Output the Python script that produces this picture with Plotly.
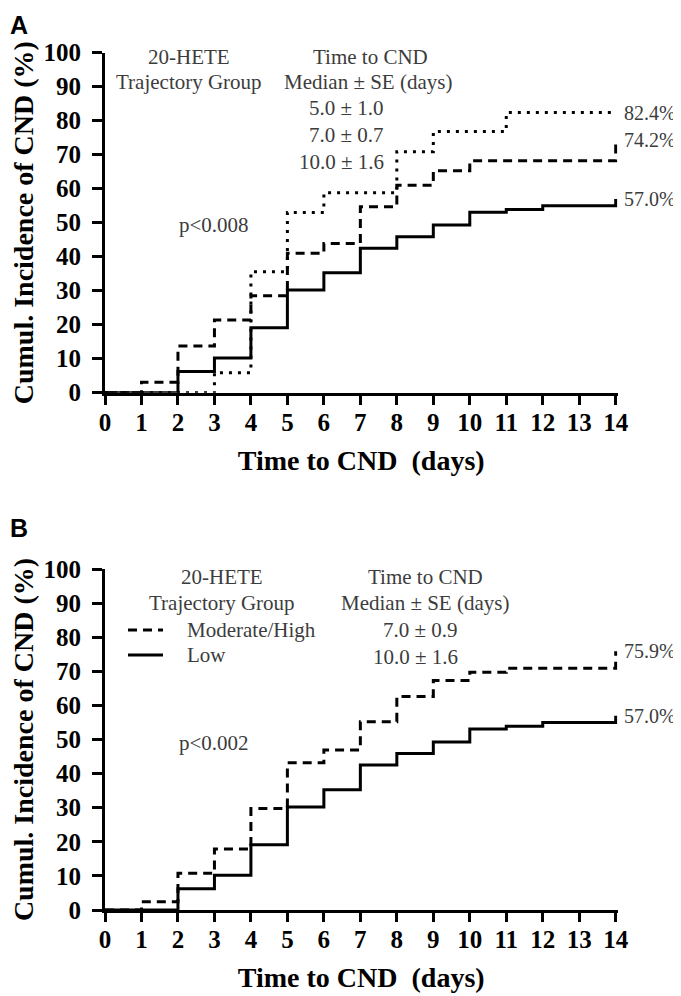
import plotly.graph_objects as go

# ---------------- data ----------------
days_low = [0, 2, 3, 4, 5, 6, 7, 8, 9, 10, 11, 12, 14]
cum_low = [0, 6.2, 10.2, 19.1, 30.2, 35.3, 42.5, 45.9, 49.3, 53.1, 53.9, 55.0, 57.0]

days_mod_a = [0, 1, 2, 3, 4, 5, 6, 7, 8, 9, 10, 14]
cum_mod_a = [0, 3.1, 13.7, 21.4, 28.5, 41.0, 43.9, 54.7, 61.0, 65.3, 68.2, 74.2]

days_high_a = [0, 3, 4, 5, 6, 8, 9, 11, 14]
cum_high_a = [0, 5.9, 35.6, 53.0, 58.8, 70.9, 76.8, 82.4, 82.4]

days_modhigh_b = [0, 1, 2, 3, 4, 5, 6, 7, 8, 9, 10, 11, 14]
cum_modhigh_b = [0, 2.4, 10.8, 17.9, 29.8, 43.2, 46.9, 55.2, 62.6, 67.3, 69.7, 70.9, 75.9]

x_ticks = list(range(0, 15))
y_ticks = list(range(0, 101, 10))

medians_a = ["5.0 ± 1.0", "7.0 ± 0.7", "10.0 ± 1.6"]
medians_b = ["7.0 ± 0.9", "10.0 ± 1.6"]
end_labels_a = ["82.4%", "74.2%", "57.0%"]
end_values_a = [82.4, 74.2, 57.0]
end_labels_b = ["75.9%", "57.0%"]
end_values_b = [75.9, 57.0]
p_a = "p<0.008"
p_b = "p<0.002"
legend_names_b = ["Moderate/High", "Low"]

# ---------------- layout geometry ----------------
PAGE_W, PAGE_H = 681, 996
OFF = 8  # default page body margin
W, H = PAGE_W - OFF, PAGE_H - OFF
SERIF = "Liberation Serif, Times New Roman, serif"
SANS = "Liberation Sans, Arial, sans-serif"
GRAY = "#3c3c3c"
LW = 3
DASH = "9px,6px"
DOT = "3px,6px"


def fx(px):
    return (px - OFF) / W


def fy(py):
    return 1 - (py - OFF) / H


x_left_px, x14_px = 105, 615.7
ppd = (x14_px - x_left_px) / 14
x_max = 14.05
x_right_px = x_left_px + x_max * ppd
xdom = [fx(x_left_px), fx(x_right_px)]
ydom_a = [fy(392.7), fy(52.7)]
ydom_b = [fy(910), fy(569)]

fig = go.Figure()


def step(x, y, dash, xa, ya):
    fig.add_trace(go.Scatter(
        x=x, y=y, mode="lines", line=dict(shape="hv", color="black", width=LW, dash=dash),
        xaxis=xa, yaxis=ya, showlegend=False, hoverinfo="x+y"))


# panel A
step(days_high_a, cum_high_a, DOT, "x", "y")
step(days_mod_a, cum_mod_a, DASH, "x", "y")
step(days_low, cum_low, "solid", "x", "y")
# panel B
step(days_modhigh_b, cum_modhigh_b, DASH, "x2", "y2")
step(days_low, cum_low, "solid", "x2", "y2")

tickfont = dict(family=SERIF, size=25, color="black", weight="bold")
titlefont = dict(family=SERIF, size=28, color="black", weight="bold")

xcommon = dict(range=[0, x_max], domain=xdom, tickmode="array", tickvals=x_ticks,
               showline=True, linewidth=LW, linecolor="black", ticks="outside",
               ticklen=9, tickwidth=LW, tickcolor="black", showgrid=False, zeroline=False,
               tickfont=tickfont, ticklabelstandoff=-4, automargin=False,
               title=dict(text="Time to CND\u00a0 (days)", font=titlefont, standoff=16))
ycommon = dict(range=[0, 100], tickmode="array", tickvals=y_ticks,
               showline=True, linewidth=LW, linecolor="black", ticks="outside",
               ticklen=10, tickwidth=LW, tickcolor="black", showgrid=False, zeroline=False,
               tickfont=tickfont, ticklabelstandoff=6, automargin=False,
               title=dict(text="Cumul. Incidence of CND (%)", font=titlefont, standoff=8))

fig.update_layout(
    template="none",
    width=W, height=H, margin=dict(l=0, r=0, t=0, b=0, autoexpand=False),
    paper_bgcolor="white", plot_bgcolor="white",
    xaxis=dict(**xcommon, anchor="y"),
    yaxis=dict(**ycommon, domain=ydom_a, anchor="x"),
    xaxis2=dict(**xcommon, anchor="y2"),
    yaxis2=dict(**ycommon, domain=ydom_b, anchor="x2"),
)

anns = []


def txt(text, x, y, xa, ya, xanchor="center", size=21, xshift=0):
    anns.append(dict(text=text, x=x, y=y, xref=xa, yref=ya, xanchor=xanchor,
                     yanchor="middle", showarrow=False, xshift=xshift,
                     font=dict(family=SERIF, size=size, color=GRAY)))


# panel A texts
txt("20-HETE", 2.3, 98.7, "x", "y")
txt("Trajectory Group", 2.3, 91.4, "x", "y")
txt("Time to CND", 7.28, 98.7, "x", "y")
txt("Median ± SE (days)", 7.2, 91.4, "x", "y")
for m, yy in zip(medians_a, [83.7, 75.8, 67.9]):
    txt(m, 7.7, yy, "x", "y", xanchor="right")
txt(p_a, 3.0, 49.3, "x", "y")
for lab, v in zip(end_labels_a, end_values_a):
    txt(lab, 14, v, "x", "y", xanchor="left", size=20, xshift=6)

# panel B texts
txt("20-HETE", 3.2, 97.7, "x2", "y2")
txt("Trajectory Group", 3.2, 90.0, "x2", "y2")
txt(legend_names_b[0], 2.19, 82.1, "x2", "y2", xanchor="left")
txt(legend_names_b[1], 2.19, 74.8, "x2", "y2", xanchor="left")
txt("Time to CND", 8.79, 97.7, "x2", "y2")
txt("Median ± SE (days)", 8.77, 90.0, "x2", "y2")
for m, yy in zip(medians_b, [82.1, 74.2]):
    txt(m, 9.73, yy, "x2", "y2", xanchor="right")
txt(p_b, 3.0, 49.0, "x2", "y2")
for lab, v in zip(end_labels_b, end_values_b):
    txt(lab, 14, v, "x2", "y2", xanchor="left", size=20, xshift=6)

# panel letters
for letter, yp in [("A", 25), ("B", 528)]:
    anns.append(dict(text=letter, x=fx(OFF), y=fy(yp), xref="paper", yref="paper",
                     xanchor="left", yanchor="middle", showarrow=False,
                     font=dict(family=SANS, size=25, color="black", weight="bold")))

fig.update_layout(annotations=anns)

# legend samples in panel B
fig.add_shape(type="line", x0=0.63, x1=1.59, y0=82.1, y1=82.1, xref="x2", yref="y2",
              line=dict(color="black", width=LW, dash=DASH))
fig.add_shape(type="line", x0=0.63, x1=1.59, y0=74.8, y1=74.8, xref="x2", yref="y2",
              line=dict(color="black", width=LW))

fig.write_html("out.html")
